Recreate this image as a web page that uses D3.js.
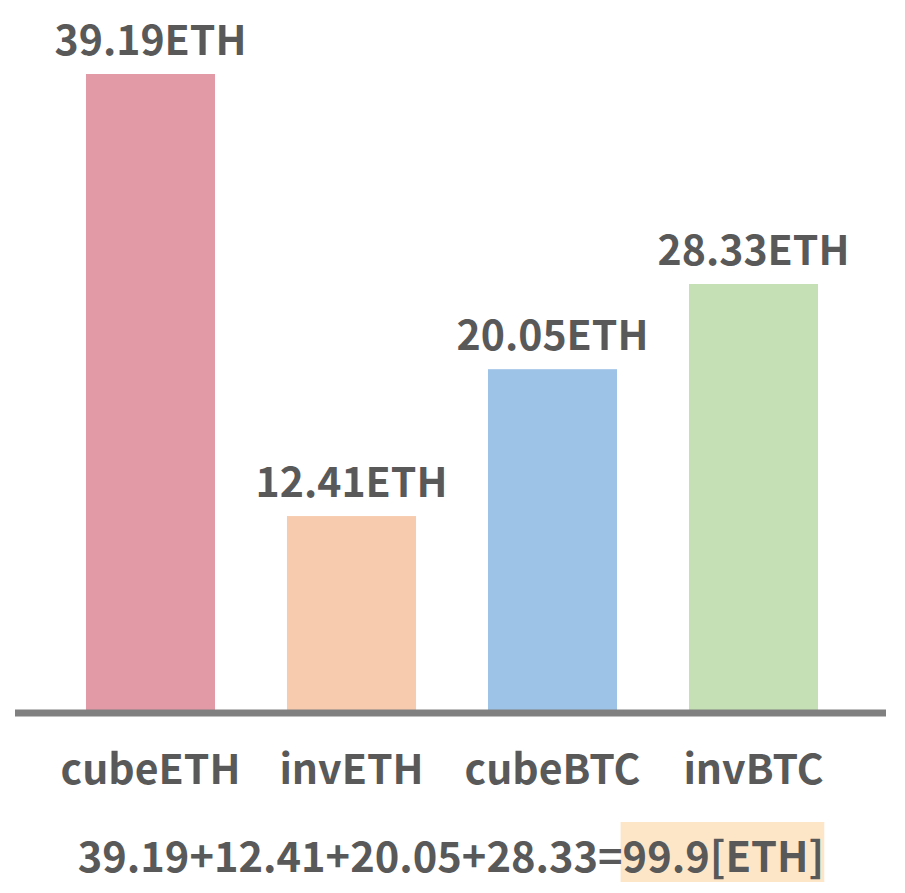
<!DOCTYPE html>
<html><head><meta charset="utf-8">
<script src="https://cdn.jsdelivr.net/npm/d3@7"></script>
<style>
html,body{margin:0;padding:0;background:#fff;}
text{font-family:"Noto Sans CJK JP","Source Sans Pro","Noto Sans",sans-serif;font-weight:700;fill:#595959;}
</style></head>
<body><svg id="c" width="905" height="893"></svg>
<script>
const categories = ["cubeETH", "invETH", "cubeBTC", "invBTC"];
const labelValues = [39.19, 12.41, 20.05, 28.33];
// bar heights as drawn in the picture (not exactly proportional to the labels)
const barValues = [39.19, 11.95, 21.0, 26.25];
const colors = ["#e29aa6", "#f7cbad", "#9dc3e6", "#c5e0b4"];
const unit = "ETH";
const totalText = "99.9";

const svg = d3.select("#c");
const x = d3.scaleBand().domain(categories).range([50, 854]).paddingInner(0.358).paddingOuter(0.179);
const y = d3.scaleLinear().domain([0, 39.19]).range([710, 74]);

svg.selectAll("rect.bar").data(categories).join("rect")
  .attr("class","bar")
  .attr("x", d => x(d)).attr("width", x.bandwidth())
  .attr("y", (d,i) => y(barValues[i])).attr("height", (d,i) => y(0) - y(barValues[i]))
  .attr("fill", (d,i) => colors[i]);

svg.selectAll("text.val").data(categories).join("text")
  .attr("class","val")
  .attr("x", d => x(d) + x.bandwidth()/2)
  .attr("y", (d,i) => y(barValues[i]) - 19)
  .attr("text-anchor","middle").attr("font-size", 41)
  .text((d,i) => labelValues[i].toFixed(2) + unit);

// axis baseline
const xAxis = d3.axisBottom(x).tickSize(0).tickPadding(0);
const ax = svg.append("g").attr("transform", "translate(0,713)").call(xAxis);
ax.select(".domain").remove();
ax.append("line").attr("x1", 15).attr("x2", 886).attr("y1", 0).attr("y2", 0)
  .attr("stroke", "#808080").attr("stroke-width", 7);
ax.selectAll(".tick text").attr("y", 71).attr("dy", 0).attr("font-size", 41)
  .attr("fill", "#595959").style("font-family", '"Noto Sans CJK JP","Noto Sans",sans-serif').style("font-weight", 700);

// formula line
const formula = svg.append("text").attr("x", 451).attr("y", 872).attr("text-anchor","middle").attr("font-size", 41.6);
const t1 = formula.append("tspan").text(labelValues.map(v => v.toFixed(2)).join("+") + "=");
const t2 = formula.append("tspan").text(totalText + "[" + unit + "]");
const bb = t2.node().getBBox();
svg.insert("rect", "text").attr("x", bb.x - 2).attr("y", 822).attr("width", bb.width + 2).attr("height", 60).attr("fill", "#fde6c8");
</script></body></html>
